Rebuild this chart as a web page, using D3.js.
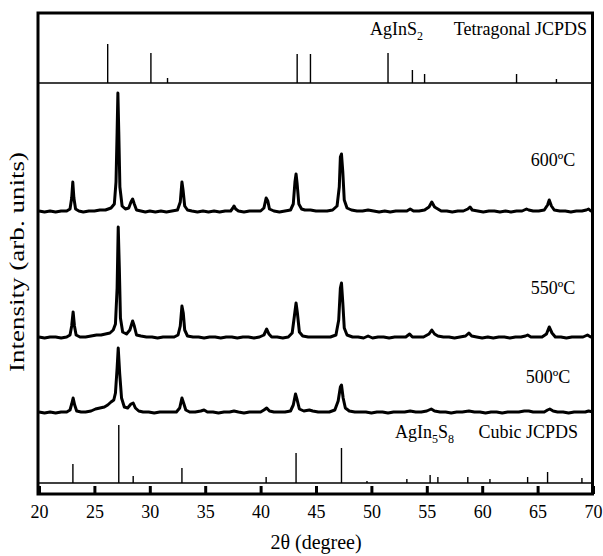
<!DOCTYPE html>
<html lang="en">
<head>
  <meta charset="UTF-8">
  <title>XRD patterns AgInS2 / AgIn5S8</title>
  <script src="https://cdnjs.cloudflare.com/ajax/libs/d3/7.8.5/d3.min.js"></script>
  <style>
    body { margin: 0; background: #fff; }
    svg text { font-family: "Liberation Serif", "DejaVu Serif", serif; fill: #000; }
  </style>
</head>
<body>
  <div id="chart"></div>
  <script>
    // 2theta positions (deg) and relative heights of reference patterns
    const tetraPos = [26.2, 30.1, 31.6, 43.3, 44.5, 51.5, 53.7, 54.8, 63.1, 66.7];
    const tetraInt = [39, 30, 5, 29, 29, 30, 13, 9, 9, 4];
    const cubicPos = [23.06, 27.2, 28.5, 32.9, 40.5, 43.2, 47.3, 49.6, 53.2, 55.3, 56.0, 58.7, 60.7, 64.1, 65.9, 69.0];
    const cubicInt = [19, 58, 7, 15, 6, 30, 35, 2, 4, 8, 6, 6, 4, 6, 11, 5];

    // baselines (arb. units) of the stacked patterns
    const tetraBase = 411;
    const cubicBase = 11;
    const sampleLabels = ["600ºC", "550ºC", "500ºC"];
    const sampleOffsets = [282, 156, 81];

    // measured patterns [2theta, intensity above baseline]
    const xrd600 = [
      [20,1],[20.5,0],[21,1],[21.5,0],[22,1],[22.5,1],[22.8,3],[22.95,14],[23.05,30],[23.15,14],[23.3,3],[23.6,1],
      [24,0],[24.5,1],[25,1],[25.5,2],[26,2],[26.5,4],[26.8,8],[26.95,30],[27.05,80],[27.12,119],[27.2,80],[27.3,25],
      [27.5,6],[27.8,3],[28.1,4],[28.3,10],[28.45,13],[28.6,8],[28.8,2],[29.2,1],[29.6,0],[30,1],[30.5,0],[31,1],
      [31.5,0],[32,1],[32.5,2],[32.75,10],[32.9,30],[33.0,22],[33.15,6],[33.4,2],[33.8,1],[34.3,0],[34.8,1],[35.3,0],
      [35.8,1],[36.3,0],[36.8,1],[37.3,1],[37.5,4],[37.6,6],[37.75,3],[38,1],[38.5,0],[39,1],[39.5,1],[40,1],
      [40.3,4],[40.5,14],[40.65,11],[40.8,3],[41.2,1],[41.7,0],[42.2,1],[42.7,2],[42.95,8],[43.1,30],[43.2,38],
      [43.3,28],[43.45,8],[43.7,3],[44,2],[44.5,2],[45,1],[45.5,1],[46,1],[46.5,2],[46.9,6],[47.1,25],[47.2,55],
      [47.3,58],[47.42,40],[47.55,12],[47.8,4],[48.2,2],[48.7,1],[49.2,1],[49.7,2],[50.2,1],[50.7,0],[51.2,1],
      [51.7,0],[52.2,1],[52.7,1],[53.2,1],[53.5,3],[53.8,1],[54.3,1],[54.8,2],[55.2,5],[55.45,10],[55.7,5],[56,3],
      [56.3,1],[56.8,1],[57.3,0],[57.8,1],[58.3,1],[58.7,3],[58.9,5],[59.1,2],[59.6,1],[60.1,0],[60.6,1],[61.1,1],
      [61.6,0],[62.1,1],[62.6,0],[63.1,1],[63.6,1],[64,3],[64.2,2],[64.6,1],[65.1,1],[65.6,2],[65.9,7],[66.05,12],
      [66.25,6],[66.5,2],[67,1],[67.5,1],[68,0],[68.5,1],[69,1],[69.4,2],[69.6,3],[69.8,1],[70,1]
    ];
    const xrd550 = [
      [20,1],[20.5,0],[21,1],[21.5,1],[22,0],[22.5,1],[22.8,3],[22.95,12],[23.08,26],[23.2,12],[23.35,3],[23.7,1],
      [24.2,1],[24.7,2],[25.2,3],[25.6,3],[26,4],[26.4,5],[26.7,8],[26.9,14],[27.05,50],[27.15,111],[27.25,70],
      [27.35,20],[27.55,6],[27.9,4],[28.2,8],[28.45,17],[28.6,12],[28.8,3],[29.2,2],[29.7,1],[30.2,1],[30.7,0],
      [31.2,1],[31.7,1],[32.2,1],[32.55,3],[32.75,12],[32.9,32],[33.02,25],[33.15,8],[33.4,2],[33.9,1],[34.4,1],
      [34.9,0],[35.4,1],[35.9,1],[36.4,0],[36.9,1],[37.4,1],[37.9,0],[38.4,1],[38.9,1],[39.4,0],[39.9,1],[40.3,3],
      [40.55,9],[40.75,4],[41,1],[41.5,1],[42,0],[42.5,1],[42.85,5],[43.05,22],[43.2,35],[43.32,25],[43.5,6],
      [43.8,2],[44.3,1],[44.8,1],[45.3,1],[45.8,1],[46.3,1],[46.8,3],[47.05,18],[47.2,50],[47.3,55],[47.42,35],
      [47.55,10],[47.8,3],[48.3,1],[48.8,1],[49.3,0],[49.7,2],[50.1,0],[50.6,1],[51.1,1],[51.6,0],[52.1,1],[52.6,1],
      [53.1,1],[53.45,4],[53.7,1],[54.2,1],[54.7,1],[55.2,4],[55.45,8],[55.7,4],[56,2],[56.5,1],[57,1],[57.5,0],
      [58,1],[58.5,2],[58.8,5],[59.05,2],[59.5,1],[60,0],[60.5,1],[61,0],[61.5,1],[62,1],[62.5,0],[63,1],[63.5,1],
      [63.9,2],[64.1,3],[64.4,1],[64.9,1],[65.4,1],[65.8,4],[66.05,11],[66.3,5],[66.6,1],[67.1,1],[67.6,0],[68.1,1],
      [68.6,1],[69.1,1],[69.5,3],[69.8,1],[70,0]
    ];
    const xrd500 = [
      [20,1],[20.5,0],[21,1],[21.5,0],[22,1],[22.5,1],[22.8,3],[22.95,9],[23.08,15],[23.22,8],[23.4,2],[23.8,1],
      [24.2,1],[24.7,2],[25.1,4],[25.5,5],[25.9,6],[26.2,8],[26.5,11],[26.75,13],[26.9,20],[27.05,45],[27.15,65],
      [27.28,40],[27.45,15],[27.7,6],[28.0,5],[28.3,9],[28.5,10],[28.7,5],[29,2],[29.4,1],[29.9,1],[30.4,0],[30.9,1],
      [31.4,1],[31.9,1],[32.4,1],[32.7,5],[32.9,15],[33.05,10],[33.25,3],[33.6,1],[34.1,1],[34.6,2],[34.9,3],
      [35.2,1],[35.7,1],[36.2,0],[36.7,1],[37.2,1],[37.6,2],[38,1],[38.5,0],[39,1],[39.5,1],[40,1],[40.3,3],
      [40.55,5],[40.8,2],[41.2,1],[41.7,1],[42.2,1],[42.7,2],[42.95,8],[43.15,19],[43.3,13],[43.5,4],[43.9,2],
      [44.4,3],[44.7,2],[45.2,1],[45.7,1],[46.2,1],[46.7,3],[47,12],[47.2,26],[47.3,28],[47.45,15],[47.65,5],[48,2],
      [48.5,1],[49,1],[49.5,1],[50,0],[50.5,1],[51,1],[51.5,0],[52,1],[52.5,1],[53,1],[53.5,2],[54,1],[54.5,1],
      [55,2],[55.4,4],[55.7,2],[56.2,1],[56.7,1],[57.2,0],[57.7,1],[58.2,1],[58.8,2],[59.3,1],[59.8,1],[60.3,0],
      [60.8,1],[61.3,1],[61.8,0],[62.3,1],[62.8,1],[63.3,1],[63.8,2],[64.2,2],[64.6,1],[65.1,1],[65.6,1],[65.9,3],
      [66.1,4],[66.4,2],[66.8,1],[67.3,1],[67.8,0],[68.3,1],[68.8,1],[69.3,1],[69.6,2],[70,1]
    ];
    const samples = [xrd600, xrd550, xrd500];
    const xTicks = [20, 25, 30, 35, 40, 45, 50, 55, 60, 65, 70];

    const margin = { top: 13, right: 10, bottom: 62, left: 39 };
    const W = 603, H = 556;
    const width = W - margin.left - margin.right;
    const height = H - margin.top - margin.bottom;

    const svg = d3.select("#chart").append("svg")
      .attr("width", W).attr("height", H);
    const g = svg.append("g").attr("transform", `translate(${margin.left},${margin.top})`);

    const x = d3.scaleLinear().domain([20, 70]).range([0, width]);
    const y = d3.scaleLinear().domain([0, 481]).range([height, 0]);

    // reference baselines
    [tetraBase, cubicBase].forEach(b => {
      g.append("line")
        .attr("x1", 0).attr("x2", width)
        .attr("y1", y(b)).attr("y2", y(b))
        .attr("stroke", "#000").attr("stroke-width", 1.4);
    });

    // stick patterns
    g.selectAll("line.tetra").data(tetraPos).join("line")
      .attr("class", "tetra")
      .attr("x1", d => x(d)).attr("x2", d => x(d))
      .attr("y1", y(tetraBase)).attr("y2", (d, i) => y(tetraBase + tetraInt[i]))
      .attr("stroke", "#000").attr("stroke-width", 1.4);

    g.selectAll("line.cubic").data(cubicPos).join("line")
      .attr("class", "cubic")
      .attr("x1", d => x(d)).attr("x2", d => x(d))
      .attr("y1", y(cubicBase)).attr("y2", (d, i) => y(cubicBase + cubicInt[i]))
      .attr("stroke", "#000").attr("stroke-width", 1.4);

    // measured patterns
    samples.forEach((data, i) => {
      const off = sampleOffsets[i];
      g.append("path")
        .datum(data)
        .attr("fill", "none")
        .attr("stroke", "#000")
        .attr("stroke-width", 3)
        .attr("stroke-linejoin", "round")
        .attr("d", d3.line().x(d => x(d[0])).y(d => y(off + d[1])));
    });

    // sample labels
    const labelPos = [[553, 166], [553, 294], [548, 383]];
    sampleLabels.forEach((t, i) => {
      svg.append("text")
        .attr("x", labelPos[i][0]).attr("y", labelPos[i][1])
        .attr("text-anchor", "middle")
        .attr("font-size", 18)
        .text(t);
    });

    // reference labels
    const tl = svg.append("text").attr("x", 370).attr("y", 35).attr("font-size", 18);
    tl.append("tspan").text("AgInS");
    tl.append("tspan").attr("font-size", 12).attr("dy", 5).text("2");
    svg.append("text").attr("x", 587).attr("y", 35).attr("text-anchor", "end")
      .attr("font-size", 18).text("Tetragonal JCPDS");

    const bl = svg.append("text").attr("x", 395).attr("y", 438).attr("font-size", 18);
    bl.append("tspan").text("AgIn");
    bl.append("tspan").attr("font-size", 12).attr("dy", 5).text("5");
    bl.append("tspan").attr("dy", -5).text("S");
    bl.append("tspan").attr("font-size", 12).attr("dy", 5).text("8");
    svg.append("text").attr("x", 578).attr("y", 438).attr("text-anchor", "end")
      .attr("font-size", 18).text("Cubic JCPDS");

    // x axis
    const xAxis = g.append("g")
      .attr("transform", `translate(0,${height})`)
      .call(d3.axisBottom(x).tickValues(xTicks).tickSizeInner(-8).tickSizeOuter(0).tickPadding(11));
    xAxis.select(".domain").remove();
    xAxis.selectAll(".tick line").attr("stroke", "#000").attr("stroke-width", 3);
    xAxis.selectAll(".tick text")
      .attr("font-family", "Liberation Serif, serif")
      .attr("font-size", 18).attr("fill", "#000");

    // frame
    g.append("rect")
      .attr("x", -1).attr("y", 0)
      .attr("width", width + 0.5).attr("height", height)
      .attr("fill", "none").attr("stroke", "#000").attr("stroke-width", 3);

    // axis titles
    svg.append("text")
      .attr("x", 316).attr("y", 549)
      .attr("text-anchor", "middle")
      .attr("font-size", 20)
      .text("2θ (degree)");

    svg.append("text")
      .attr("transform", "translate(24,262) rotate(-90)")
      .attr("text-anchor", "middle")
      .attr("font-size", 20)
      .attr("textLength", 220)
      .attr("lengthAdjust", "spacingAndGlyphs")
      .text("Intensity (arb. units)");
  </script>
</body>
</html>
